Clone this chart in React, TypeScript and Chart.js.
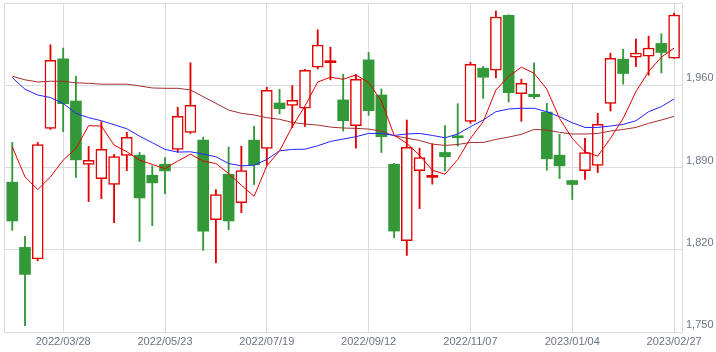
import { useEffect, useRef } from 'react';
import { Chart, registerables } from 'chart.js';

Chart.register(...registerables);

const dates = [
  '2022/02/28', '2022/03/07', '2022/03/14', '2022/03/22', '2022/03/28', '2022/04/04', '2022/04/11', '2022/04/18',
  '2022/04/25', '2022/05/02', '2022/05/09', '2022/05/16', '2022/05/23', '2022/05/30', '2022/06/06', '2022/06/13',
  '2022/06/20', '2022/06/27', '2022/07/04', '2022/07/11', '2022/07/19', '2022/07/25', '2022/08/01', '2022/08/08',
  '2022/08/15', '2022/08/22', '2022/08/29', '2022/09/05', '2022/09/12', '2022/09/20', '2022/09/26', '2022/10/03',
  '2022/10/11', '2022/10/17', '2022/10/24', '2022/10/31', '2022/11/07', '2022/11/14', '2022/11/21', '2022/11/28',
  '2022/12/05', '2022/12/12', '2022/12/19', '2022/12/26', '2023/01/04', '2023/01/10', '2023/01/16', '2023/01/23',
  '2023/01/30', '2023/02/06', '2023/02/13', '2023/02/20', '2023/02/27',
];

const tickLabels = ['2022/03/28', '2022/05/23', '2022/07/19', '2022/09/12', '2022/11/07', '2023/01/04', '2023/02/27'];

const openP = [
  1877.5, 1822.0, 1812.3, 1923.3, 1982.5, 1946.6, 1892.6, 1880.6, 1875.5, 1900.2,
  1900.5, 1883.4, 1892.8, 1905.4, 1919.9, 1913.3, 1845.6, 1884.3, 1860.1, 1913.3,
  1906.2, 1944.9, 1942.9, 1940.4, 1975.4, 1979.2, 1947.5, 1925.6, 1981.6, 1951.7,
  1892.8, 1827.7, 1887.4, 1881.6, 1902.8, 1916.7, 1929.3, 1974.5, 1972.8, 2019.5,
  1952.9, 1952.3, 1937.2, 1900.5, 1878.9, 1887.4, 1891.7, 1944.6, 1982.2, 1983.9,
  1984.8, 1995.6, 1983.0,
];
const highP = [
  1911.3, 1831.4, 1911.3, 1994.4, 1991.6, 1967.7, 1907.9, 1929.0, 1901.1, 1919.9,
  1902.8, 1891.4, 1898.5, 1941.2, 1979.1, 1915.9, 1871.2, 1907.4, 1908.2, 1925.0,
  1958.3, 1956.6, 1959.7, 1973.5, 2007.2, 1992.4, 1969.4, 1969.1, 1987.9, 1956.9,
  1893.5, 1930.4, 1906.5, 1910.2, 1925.6, 1944.3, 1979.6, 1976.2, 2023.2, 2020.0,
  1965.1, 1979.1, 1944.6, 1918.2, 1879.2, 1914.8, 1936.1, 1987.3, 1990.7, 1999.3,
  2001.8, 2003.8, 2021.5,
];
const lowP = [
  1836.5, 1755.4, 1810.6, 1922.4, 1920.4, 1881.5, 1861.0, 1863.5, 1843.0, 1887.4,
  1827.1, 1840.5, 1867.8, 1903.1, 1919.0, 1819.4, 1808.9, 1837.1, 1851.6, 1875.5,
  1892.0, 1935.5, 1923.9, 1925.0, 1973.9, 1964.6, 1921.0, 1906.5, 1934.4, 1902.8,
  1830.2, 1815.2, 1855.0, 1875.8, 1887.1, 1908.2, 1927.6, 1948.9, 1966.3, 1945.8,
  1929.3, 1948.6, 1887.7, 1880.6, 1862.7, 1879.8, 1885.7, 1938.1, 1960.9, 1975.9,
  1968.5, 1970.5, 1983.0,
];
const closeP = [
  1844.5, 1799.0, 1909.6, 1981.3, 1944.3, 1896.5, 1896.0, 1905.4, 1899.4, 1915.6,
  1864.1, 1876.9, 1887.1, 1933.5, 1942.9, 1835.9, 1866.9, 1844.5, 1887.4, 1892.3,
  1955.7, 1940.1, 1947.2, 1972.8, 1994.1, 1980.0, 1929.8, 1965.1, 1938.4, 1916.2,
  1835.9, 1907.1, 1898.5, 1882.4, 1899.1, 1915.3, 1977.9, 1966.8, 2018.1, 1953.7,
  1961.7, 1950.3, 1897.4, 1891.4, 1875.5, 1902.8, 1926.7, 1983.0, 1970.0, 1987.3,
  1991.6, 1987.9, 2019.8,
];

const ma5 = [
  1907.6, 1882.0, 1871.2, 1882.0, 1896.3, 1906.2, 1925.6, 1925.3, 1909.1, 1903.4,
  1896.3, 1892.6, 1889.1, 1895.4, 1901.4, 1895.4, 1893.4, 1884.9, 1874.9, 1865.5,
  1891.4, 1904.2, 1924.7, 1942.4, 1962.8, 1966.8, 1965.1, 1968.8, 1962.3, 1946.6,
  1917.6, 1910.5, 1900.5, 1887.7, 1884.3, 1896.8, 1914.8, 1929.0, 1956.0, 1967.4,
  1975.4, 1970.2, 1956.6, 1931.8, 1914.8, 1903.4, 1899.7, 1914.8, 1931.8, 1954.6,
  1971.7, 1983.9, 1991.6,
];
const ma13 = [
  1966.5, 1956.6, 1951.7, 1949.5, 1944.6, 1936.1, 1932.4, 1929.8, 1926.4, 1923.0,
  1916.7, 1911.1, 1905.4, 1903.1, 1903.4, 1901.4, 1899.1, 1893.4, 1891.4, 1892.0,
  1896.8, 1904.2, 1905.4, 1905.6, 1908.5, 1912.2, 1914.2, 1916.2, 1919.0, 1919.0,
  1917.3, 1918.5, 1919.0, 1917.3, 1915.3, 1918.5, 1924.7, 1930.4, 1937.5, 1939.8,
  1940.4, 1940.4, 1937.5, 1933.2, 1928.1, 1924.1, 1924.1, 1925.3, 1926.7, 1929.8,
  1937.5, 1941.8, 1948.3,
];
const ma26 = [
  1967.7, 1964.6, 1962.8, 1963.4, 1963.4, 1962.0, 1961.7, 1960.9, 1960.9, 1960.9,
  1959.4, 1957.7, 1957.4, 1957.4, 1956.0, 1950.3, 1944.6, 1938.9, 1936.1, 1934.7,
  1932.4, 1931.0, 1928.4, 1927.0, 1926.1, 1924.4, 1923.6, 1923.3, 1922.7, 1921.0,
  1917.0, 1915.0, 1913.0, 1909.9, 1908.8, 1909.6, 1911.3, 1911.3, 1913.9, 1915.9,
  1918.2, 1922.4, 1921.9, 1919.9, 1918.5, 1918.5, 1919.0, 1921.0, 1922.4, 1924.1,
  1927.6, 1930.4, 1933.5,
];

const yTicks = [1750, 1820, 1890, 1960, 2030];

const GREEN = 'rgb(51,153,56)';
const RED = 'rgb(228,0,0)';
const BLUE = 'rgb(35,35,255)';
const BROWN = 'rgb(165,45,45)';
const GRID = '#dcdcdc';
const TEXT = '#6a7585';

export default function App() {
  const ref = useRef<HTMLCanvasElement | null>(null);

  useEffect(() => {
    if (!ref.current) return;
    const idx = dates.map((_, i) => i);
    const isDoji = (i: number) => Math.abs(closeP[i] - openP[i]) < 1.5;
    const up = idx.filter((i) => closeP[i] >= openP[i] && !isDoji(i));
    const down = idx.filter((i) => closeP[i] < openP[i] && !isDoji(i));
    const doji = idx.filter((i) => isDoji(i));
    const tickIdx = tickLabels.map((l) => dates.indexOf(l));

    const borderPlugin = {
      id: 'frame',
      beforeDatasetsDraw(chart: any) {
        const { ctx, chartArea } = chart;
        ctx.save();
        ctx.strokeStyle = GRID;
        ctx.lineWidth = 1;
        ctx.strokeRect(chartArea.left + 0.5, chartArea.top + 0.5, chartArea.right - chartArea.left - 1, chartArea.bottom - chartArea.top);
        ctx.restore();
      },
    };

    const lineDs = (values: number[], color: string) => ({
      type: 'line',
      data: idx.map((i) => ({ x: i, y: values[i] })),
      borderColor: color,
      borderWidth: 1,
      pointRadius: 0,
      tension: 0,
      order: 0,
    });

    const wickColor = (i: number) => (closeP[i] >= openP[i] ? RED : GREEN);

    const chart = new Chart(ref.current, {
      type: 'bar',
      data: {
        datasets: [
          lineDs(ma5, RED),
          lineDs(ma13, BLUE),
          lineDs(ma26, BROWN),
          {
            type: 'bar',
            data: up.map((i) => ({ x: i, y: [openP[i], closeP[i]] })),
            backgroundColor: '#ffffff',
            borderColor: RED,
            borderWidth: 1.5,
            borderSkipped: false,
            barThickness: 11,
            grouped: false,
            order: 1,
          },
          {
            type: 'bar',
            data: down.map((i) => ({ x: i, y: [closeP[i], openP[i]] })),
            backgroundColor: GREEN,
            borderWidth: 0,
            barThickness: 11,
            grouped: false,
            order: 1,
          },
          {
            type: 'bar',
            data: doji.map((i) => ({ x: i, y: [Math.min(openP[i], closeP[i]), Math.max(openP[i], closeP[i])] })),
            backgroundColor: doji.map((i) => wickColor(i)),
            borderWidth: 0,
            barThickness: 11,
            minBarLength: 2,
            grouped: false,
            order: 1,
          },
          {
            type: 'bar',
            data: idx.map((i) => ({ x: i, y: [lowP[i], highP[i]] })),
            backgroundColor: idx.map((i) => wickColor(i)),
            borderWidth: 0,
            barThickness: 1.2,
            grouped: false,
            order: 2,
          },
        ] as any,
      },
      options: {
        animation: false,
        responsive: false,
        devicePixelRatio: 1,
        layout: { padding: { left: 4, top: 3, right: 0, bottom: 0 } },
        plugins: { legend: { display: false }, tooltip: { enabled: false } },
        scales: {
          x: {
            type: 'linear',
            offset: false,
            min: -0.65,
            max: 52.7,
            afterBuildTicks: (s: any) => {
              s.ticks = tickIdx.map((v) => ({ value: v }));
            },
            afterFit: (s: any) => {
              s.height = 20;
              s.paddingLeft = 0;
              s.paddingRight = 0;
            },
            grid: { color: GRID, drawTicks: false, offset: false },
            border: { display: false },
            ticks: {
              autoSkip: false,
              maxRotation: 0,
              padding: 3,
              color: TEXT,
              font: { family: 'Liberation Sans', size: 11 },
              callback: (v: any) => dates[Math.round(Number(v))] ?? '',
            },
          },
          y: {
            position: 'right',
            min: 1750,
            max: 2030,
            afterBuildTicks: (s: any) => {
              s.ticks = yTicks.map((v) => ({ value: v }));
            },
            afterFit: (s: any) => {
              s.width = 33;
              s.paddingTop = 0;
              s.paddingBottom = 0;
            },
            grid: { color: GRID, drawTicks: false },
            border: { display: false },
            ticks: {
              padding: 3,
              labelOffset: -7,
              color: TEXT,
              font: { family: 'Liberation Sans', size: 11 },
              callback: (v: any) => (Number(v) >= 2030 ? '' : Number(v).toLocaleString('en-US')),
            },
          },
        },
      } as any,
      plugins: [borderPlugin],
    });
    return () => chart.destroy();
  }, []);

  return (
    <div style={{ position: 'absolute', left: 0, top: 0, width: 716, height: 352, background: '#fff' }}>
      <canvas ref={ref} width={716} height={352} style={{ width: 716, height: 352, display: 'block' }} />
    </div>
  );
}
